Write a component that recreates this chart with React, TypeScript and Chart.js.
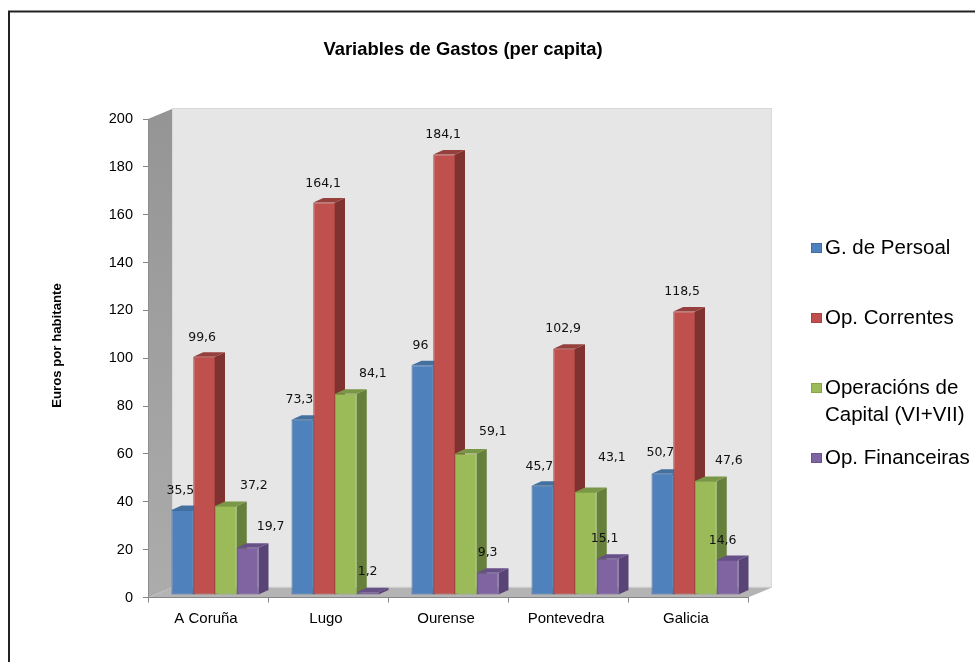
import React, { useEffect, useRef } from "react";
import { Chart, registerables } from "chart.js";

Chart.register(...registerables);

const categories = ["A Coruña", "Lugo", "Ourense", "Pontevedra", "Galicia"];
const persoal = [35.5, 73.3, 96, 45.7, 50.7];
const correntes = [99.6, 164.1, 184.1, 102.9, 118.5];
const capital = [37.2, 84.1, 59.1, 43.1, 47.6];
const financeiras = [19.7, 1.2, 9.3, 15.1, 14.6];
const seriesNames = ["G. de Persoal", "Op. Correntes", "Operacións de\nCapital (VI+VII)", "Op. Financeiras"];
const chartTitle = "Variables de Gastos (per capita)";
const axisTitle = "Euros por habitante";

const FRONT = ["#4F81BD", "#C0504D", "#9BBB59", "#8064A2"];
const EDGE = ["#3F6CA3", "#A84442", "#86A44A", "#6C5290"];
const SIDE = ["#3A6494", "#7F3230", "#667F3A", "#594478"];
const TOP = ["#44709F", "#95403D", "#7A9647", "#674F87"];

// label placement relative to the top-centre of each bar, [dx, dy] per category
const labelNudges = [
  [[-2, -19], [-3, -20], [-2, -20], [-3, -19], [-2, -21]],
  [[-2, -19], [-1, -19], [-1, -20], [-1, -20], [-2, -20]],
  [[28, -20], [27, -20], [27, -22], [26, -34], [23, -20]],
  [[23, -21], [0, -20], [0, -20], [-3, -20], [-5, -19]],
];
const legendSlots = [248, 318, 388, 458];

const BAR_SHIFT = { x: 7, y: -2.5 };
const BAR_DEPTH = { x: 10, y: 4.5 };
const WALL_DEPTH = { x: 24, y: 10 };

function poly(ctx: CanvasRenderingContext2D, pts: number[][], fill: any) {
  ctx.beginPath();
  pts.forEach(([x, y], i) => (i ? ctx.lineTo(x, y) : ctx.moveTo(x, y)));
  ctx.closePath();
  ctx.fillStyle = fill;
  ctx.fill();
}

const framePlugin = {
  id: "frame",
  beforeDraw(chart: any) {
    const { ctx, chartArea: a } = chart;
    ctx.save();
    ctx.fillStyle = "#ffffff";
    ctx.fillRect(0, 0, chart.width, chart.height);
    ctx.strokeStyle = "#222222";
    ctx.lineWidth = 2;
    ctx.beginPath();
    ctx.moveTo(9, 662);
    ctx.lineTo(9, 11.5);
    ctx.lineTo(975, 11.5);
    ctx.stroke();

    const d = WALL_DEPTH;
    // back wall
    poly(ctx, [[a.left + d.x, a.top - d.y], [a.right + d.x, a.top - d.y], [a.right + d.x, a.bottom - d.y], [a.left + d.x, a.bottom - d.y]], "#E6E6E6");
    ctx.strokeStyle = "#DADADA";
    ctx.lineWidth = 1;
    ctx.strokeRect(a.left + d.x + 0.5, a.top - d.y - 0.5, a.right - a.left - 1, a.bottom - a.top);
    // side wall
    const g = ctx.createLinearGradient(0, a.top, 0, a.bottom);
    g.addColorStop(0, "#959595");
    g.addColorStop(1, "#ACACAC");
    poly(ctx, [[a.left, a.top], [a.left + d.x, a.top - d.y], [a.left + d.x, a.bottom - d.y], [a.left, a.bottom]], g);
    // floor
    poly(ctx, [[a.left, a.bottom], [a.left + d.x, a.bottom - d.y], [a.right + d.x, a.bottom - d.y], [a.right, a.bottom]], "#B4B4B4");

    // title
    ctx.fillStyle = "#000000";
    ctx.font = "bold 18.4px 'Liberation Sans'";
    ctx.textAlign = "center";
    ctx.textBaseline = "middle";
    ctx.fillText(chartTitle, 463, 50);
    // value axis title
    ctx.translate(57, 345.5);
    ctx.rotate(-Math.PI / 2);
    ctx.font = "bold 13.2px 'Liberation Sans'";
    ctx.fillText(axisTitle, 0, 0);
    ctx.restore();
  },
};

const depthPlugin = {
  id: "depth",
  // The library paints the first dataset last; here the later series must
  // cover the depth faces of the earlier ones, so bars are painted in order.
  beforeDatasetDraw() {
    return false;
  },
  afterDatasetsDraw(chart: any) {
    const { ctx } = chart;
    ctx.save();
    ctx.translate(BAR_SHIFT.x, BAR_SHIFT.y);
    chart.data.datasets.forEach((_: any, i: number) => {
      chart.getDatasetMeta(i).data.forEach((bar: any) => {
        const { x, y, base, width } = bar.getProps(["x", "y", "base", "width"], true);
        const l = x - width / 2;
        const r = x + width / 2;
        const d = BAR_DEPTH;
        poly(ctx, [[r, y], [r + d.x, y - d.y], [r + d.x, base - d.y], [r, base]], SIDE[i]);
        poly(ctx, [[l, y], [l + d.x, y - d.y], [r + d.x, y - d.y], [r, y]], TOP[i]);
        bar.draw(ctx);
      });
    });
    ctx.restore();
    ctx.save();
    // data labels
    ctx.font = "12.5px 'DejaVu Sans'";
    ctx.fillStyle = "#111111";
    ctx.textAlign = "center";
    ctx.textBaseline = "middle";
    chart.data.datasets.forEach((ds: any, i: number) => {
      chart.getDatasetMeta(i).data.forEach((bar: any, j: number) => {
        const { x, y } = bar.getProps(["x", "y"], true);
        const [dx, dy] = labelNudges[i][j];
        ctx.fillText(String(ds.data[j]).replace(".", ","), x + BAR_SHIFT.x + dx, y + BAR_SHIFT.y + dy);
      });
    });
    // legend
    ctx.textAlign = "left";
    ctx.font = "20.5px 'Liberation Sans'";
    chart.data.datasets.forEach((ds: any, i: number) => {
      const cy = legendSlots[i];
      ctx.fillStyle = FRONT[i];
      ctx.fillRect(811, cy - 5, 11, 10);
      ctx.strokeStyle = EDGE[i];
      ctx.lineWidth = 1;
      ctx.strokeRect(811.5, cy - 4.5, 10, 9);
      ctx.fillStyle = "#000000";
      ds.label.split("\n").forEach((line: string, k: number) => {
        ctx.fillText(line, 825, cy + k * 27);
      });
    });
    ctx.restore();
  },
};

const seriesValues = [persoal, correntes, capital, financeiras];

export default function App() {
  const ref = useRef<HTMLCanvasElement>(null);
  useEffect(() => {
    const chart = new Chart(ref.current as HTMLCanvasElement, {
      type: "bar",
      data: {
        labels: categories,
        datasets: seriesValues.map((data, i) => ({
          label: seriesNames[i],
          data,
          backgroundColor: FRONT[i],
          borderColor: EDGE[i],
          borderWidth: 1,
          borderSkipped: false,
          categoryPercentage: 87 / 120,
          barPercentage: 1,
          clip: false,
        })),
      },
      options: {
        responsive: false,
        animation: false,
        layout: { padding: { left: 0, right: 227, top: 119, bottom: 37.5 } },
        plugins: { legend: { display: false }, title: { display: false }, tooltip: { enabled: false } },
        scales: {
          x: {
            afterFit: (s: any) => { s.height = 30; },
            grid: { drawOnChartArea: false, drawTicks: true, tickLength: 5, color: "#868686" },
            border: { color: "#868686", width: 1 },
            ticks: { color: "#000000", font: { family: "'Liberation Sans'", size: 15 }, padding: 7, labelOffset: -2, maxRotation: 0 },
          },
          y: {
            min: 0,
            max: 200,
            afterFit: (s: any) => { s.width = 148; },
            grid: { drawOnChartArea: false, drawTicks: true, tickLength: 5, color: "#868686" },
            border: { color: "#8E8E8E", width: 1 },
            ticks: { stepSize: 20, color: "#000000", font: { family: "'Liberation Sans'", size: 14.5 }, padding: 10 },
          },
        },
      },
      plugins: [framePlugin, depthPlugin],
    } as any);
    return () => chart.destroy();
  }, []);
  return (
    <canvas
      ref={ref}
      width={975}
      height={665}
      style={{ position: "absolute", left: 0, top: 0, width: 975, height: 665, display: "block" }}
    />
  );
}
